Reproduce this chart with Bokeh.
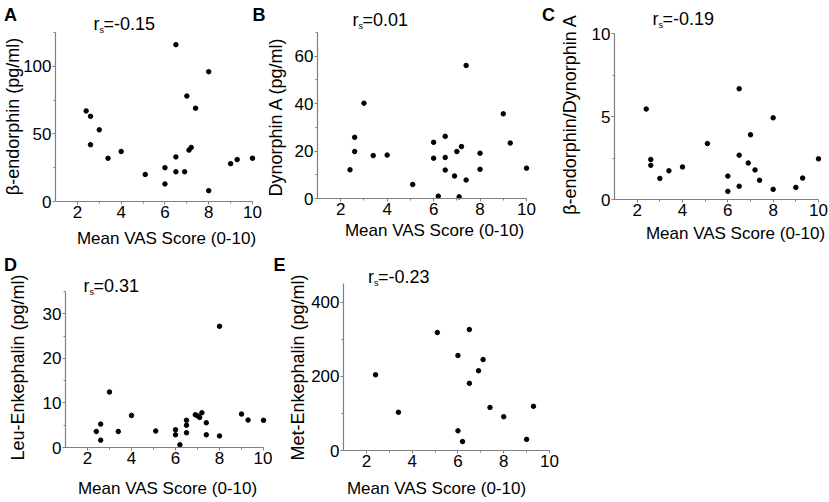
import math
from bokeh.plotting import figure
from bokeh.models import Range1d, FixedTicker, Label, LinearAxis
from bokeh.layouts import row, column
from bokeh.embed import file_html
from bokeh.resources import INLINE

FONT = "Liberation Sans"

# ---------------- data ----------------
x_label = "Mean VAS Score (0-10)"
x_ticks = [2, 4, 6, 8, 10]
x_minor = [3, 5, 7, 9]

A_x = [2.4, 2.6, 3.0, 2.6, 3.4, 4.0, 5.1, 6.0, 6.0, 6.5, 6.5, 6.5, 6.9, 7.0, 7.1, 7.2, 7.4, 8.0, 8.0, 9.0, 9.3, 10.0]
A_y = [67, 63, 53, 42, 32, 37, 20, 25, 13, 116, 33, 22, 22, 78, 38, 40, 69, 96, 8, 28, 31, 32]

B_x = [2.4, 2.6, 2.6, 3.0, 3.4, 4.0, 5.1, 6.0, 6.0, 6.2, 6.5, 6.5, 6.5, 6.9, 7.0, 7.1, 7.2, 7.4, 7.4, 8.0, 8.0, 9.0, 9.3, 10.0]
B_y = [12.1, 25.8, 19.8, 40.2, 18.1, 18.3, 5.9, 23.7, 17.0, 1.0, 26.2, 17.3, 12.0, 9.5, 19.8, 0.7, 21.9, 56.1, 7.8, 19.1, 12.3, 35.7, 23.4, 12.8]

C_x = [2.4, 2.6, 2.6, 3.0, 3.4, 4.0, 5.1, 6.0, 6.0, 6.5, 6.5, 6.5, 6.9, 7.0, 7.2, 7.4, 8.0, 8.0, 9.0, 9.3, 10.0]
C_y = [5.45, 2.41, 2.06, 1.27, 1.73, 1.96, 3.37, 1.41, 0.49, 6.67, 2.67, 0.80, 2.20, 3.90, 1.78, 1.16, 4.92, 0.61, 0.73, 1.29, 2.45]

D_x = [2.4, 2.6, 2.6, 3.0, 3.4, 4.0, 5.1, 6.0, 6.0, 6.2, 6.5, 6.5, 6.5, 6.9, 7.0, 7.1, 7.2, 7.4, 7.4, 8.0, 8.0, 9.0, 9.3, 10.0]
D_y = [3.6, 5.25, 1.65, 12.45, 3.6, 7.2, 3.7, 3.98, 2.85, 0.6, 6.1, 5.0, 3.3, 7.35, 7.1, 6.75, 7.8, 5.55, 2.85, 27.2, 2.6, 7.5, 6.15, 6.1]

E_x = [2.4, 3.4, 5.1, 6.0, 6.0, 6.2, 6.5, 6.5, 6.9, 7.1, 7.4, 8.0, 9.0, 9.3]
E_y = [204, 103, 318, 256, 53, 24, 326, 181, 215, 245, 116, 91, 30, 119]

y_labels = {
    "A": "β-endorphin (pg/ml)",
    "B": "Dynorphin A (pg/ml)",
    "C": "β-endorphin/Dynorphin A",
    "D": "Leu-Enkephalin (pg/ml)",
    "E": "Met-Enkephalin (pg/ml)",
}
rs_values = {"A": "=-0.15", "B": "=0.01", "C": "=-0.19", "D": "=0.31", "E": "=-0.23"}

A_ymax, A_yticks, A_yminor = 125, [0, 50, 100], [25, 75, 125]
B_ymax, B_yticks, B_yminor = 70, [0, 20, 40, 60], [10, 30, 50, 70]
C_ymax, C_yticks, C_yminor = 10, [0, 5, 10], [2.5, 7.5]
D_ymax, D_yticks, D_yminor = 35, [0, 10, 20, 30], [5, 15, 25, 35]
E_ymax, E_yticks, E_yminor = 450, [0, 200, 400], [100, 300]

AXIS_COLOR = "#808080"
XMIN, XMAX = 1, 10


def panel(xs, ys, ymax, yticks, yminor, canvas, frame):
    """canvas = (x0, y0, w, h) on the page; frame = (left, top, right, bottom) of the axes box on the page."""
    x0, y0, w, h = canvas
    fl, ft, fr, fb = frame
    kx = (XMAX - XMIN) / (fr - fl)
    ky = ymax / (fb - ft)
    xr = Range1d(XMIN - (fl - x0) * kx, XMAX + (x0 + w - fr) * kx)
    yr = Range1d(0 - (y0 + h - fb) * ky, ymax + (ft - y0) * ky)
    p = figure(width=w, height=h, x_range=xr, y_range=yr,
               output_backend="svg", toolbar_location=None,
               x_axis_location=None, y_axis_location=None,
               min_border_left=0, min_border_right=0,
               min_border_top=0, min_border_bottom=0)
    p.outline_line_color = None
    p.xgrid.visible = False
    p.ygrid.visible = False
    p.background_fill_color = "white"
    p.border_fill_color = "white"

    xax = LinearAxis(fixed_location=0, bounds=(XMIN, XMAX),
                     ticker=FixedTicker(ticks=x_ticks, minor_ticks=x_minor))
    yax = LinearAxis(fixed_location=XMIN, bounds=(0, ymax),
                     ticker=FixedTicker(ticks=yticks, minor_ticks=yminor))
    for ax in (xax, yax):
        ax.axis_line_color = AXIS_COLOR
        ax.axis_line_width = 1.2
        ax.major_tick_line_color = AXIS_COLOR
        ax.minor_tick_line_color = AXIS_COLOR
        ax.major_tick_in = 0
        ax.major_tick_out = 3
        ax.minor_tick_in = 0
        ax.minor_tick_out = 2
        ax.major_label_text_font = FONT
        ax.major_label_text_font_size = "17px"
        ax.major_label_text_color = "black"
        ax.major_label_standoff = 1
    p.add_layout(xax, "below")
    p.add_layout(yax, "left")

    p.scatter(xs, ys, size=4.5, color="black", line_color="black")
    p._origin = (x0, y0)
    return p


def add_text(p, sx, sy, text, size, align="left", baseline="middle", bold=False, angle=0.0):
    """sx, sy: page pixel position; converted to the figure's canvas."""
    x0, y0 = p._origin
    p.add_layout(Label(x=sx - x0, y=sy - y0, x_units="canvas", y_units="canvas", text=text,
                       text_font=FONT, text_font_size=size, text_align=align,
                       text_baseline=baseline, text_color="black",
                       text_font_style="bold" if bold else "normal", angle=angle))


def add_rs(p, L, M, val):
    add_text(p, L, M, "r", "18px")
    add_text(p, L + 6, M + 6, "s", "9px")
    add_text(p, L + 10, M, val, "18px")


pA = panel(A_x, A_y, A_ymax, A_yticks, A_yminor, (0, 0, 266, 252), (55, 32, 252, 201))
pB = panel(B_x, B_y, B_ymax, B_yticks, B_yminor, (266, 0, 294, 252), (317, 32, 526, 198))
pC = panel(C_x, C_y, C_ymax, C_yticks, C_yminor, (560, 0, 269, 252), (614, 33, 818, 199))
pD = panel(D_x, D_y, D_ymax, D_yticks, D_yminor, (0, 252, 272, 248), (65, 291, 263, 447))
pE = panel(E_x, E_y, E_ymax, E_yticks, E_yminor, (272, 252, 557, 248), (343, 283, 549, 450))

# panel letters
add_text(pA, 10, 14, "A", "18px", align="center", bold=True)
add_text(pA, 258.5, 14, "B", "18px", align="center", bold=True)
add_text(pB, 548, 14, "C", "18px", align="center", bold=True)
add_text(pD, 10, 264, "D", "18px", align="center", bold=True)
add_text(pE, 279, 264, "E", "18px", align="center", bold=True)

# y labels (rotated)
rot = math.pi / 2
add_text(pA, 12, 116, y_labels["A"], "18px", align="center", angle=rot)
add_text(pB, 275, 116, y_labels["B"], "18px", align="center", angle=rot)
add_text(pC, 569, 114, y_labels["C"], "18px", align="center", angle=rot)
add_text(pD, 17, 367, y_labels["D"], "18px", align="center", angle=rot)
add_text(pE, 297, 367, y_labels["E"], "18px", align="center", angle=rot)

# x labels
add_text(pA, 166, 237.5, x_label, "17px", align="center")
add_text(pB, 434, 230, x_label, "17px", align="center")
add_text(pC, 735, 232.5, x_label, "17px", align="center")
add_text(pD, 167, 487.5, x_label, "17px", align="center")
add_text(pE, 436, 487.5, x_label, "17px", align="center")

# Spearman r_s annotations
add_rs(pA, 93, 23, rs_values["A"])
add_rs(pB, 352, 19.7, rs_values["B"])
add_rs(pC, 652, 18.7, rs_values["C"])
add_rs(pD, 83, 285, rs_values["D"])
add_rs(pE, 367.5, 276, rs_values["E"])

layout = column(row(pA, pB, pC), row(pD, pE))

open("out.html", "w").write(file_html(layout, INLINE))
